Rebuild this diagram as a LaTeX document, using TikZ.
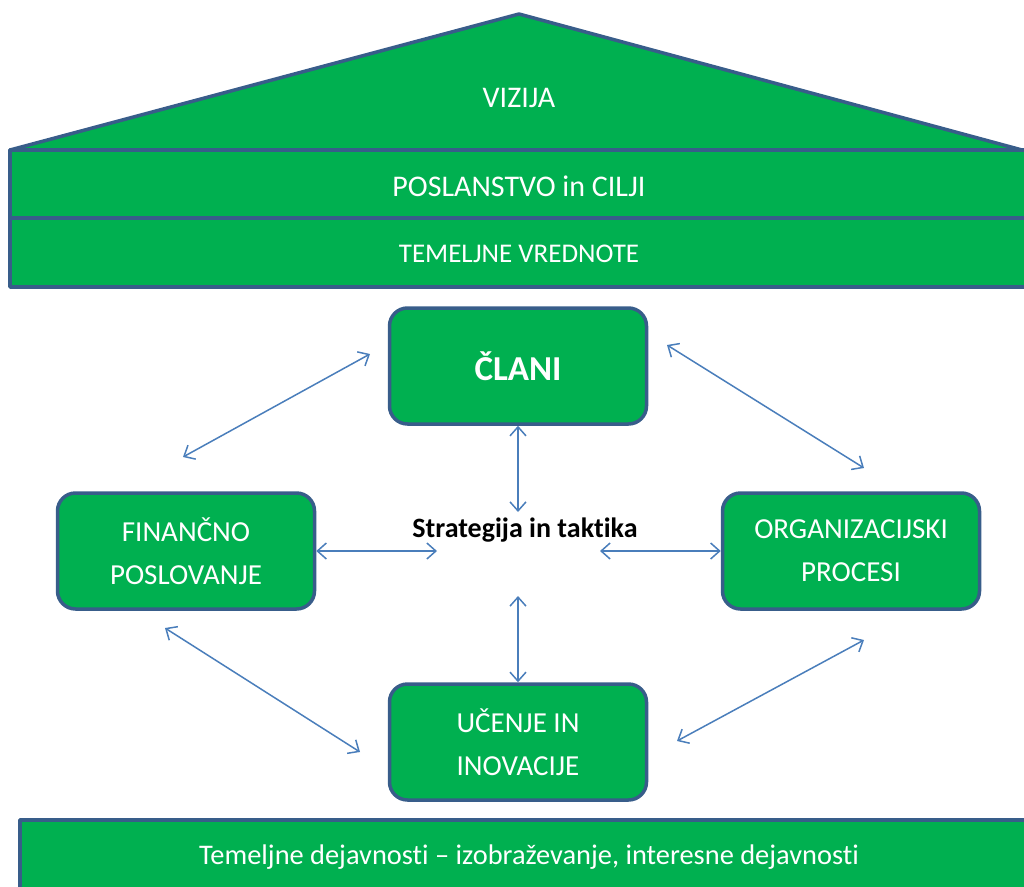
\documentclass[tikz,border=0pt]{standalone}
\usepackage{fontspec}
\setmainfont{Carlito}[Ligatures=NoCommon]
\usetikzlibrary{arrows.meta}
\definecolor{hgreen}{RGB}{0,176,80}
\definecolor{hblue}{RGB}{56,93,138}
\definecolor{arrblue}{RGB}{74,126,187}
\begin{document}
\begin{tikzpicture}[x=1pt,y=-1pt,line join=round,
  part/.style={fill=hgreen,draw=hblue,line width=3.5pt},
  box/.style={part,rounded corners=18pt,minimum width=257pt,minimum height=116pt,align=center,text=white,font=\fontsize{29}{43}\selectfont},
  link/.style={draw=arrblue,line width=1.5pt,{Straight Barb[length=9pt,width=16pt]}-{Straight Barb[length=9pt,width=16pt]}}]
\useasboundingbox (0,0) rectangle (1024,886);
% roof, beams and floor
\draw[part] (10,150) -- (519,14) -- (1022,150) -- cycle;
\draw[part] (10,150) rectangle (1034,218);
\draw[part] (10,218) rectangle (1034,287);
\draw[part] (20,820) rectangle (1034,900);
\node[text=white,font=\fontsize{30}{36}\selectfont] (vizija) at (519,98) {VIZIJA};
\node[text=white,font=\fontsize{30}{36}\selectfont] (poslanstvo) at (519,186) {POSLANSTVO in CILJI};
\node[text=white,font=\fontsize{27}{32}\selectfont] (vrednote) at (519,254) {TEMELJNE VREDNOTE};
\node[text=white,font=\fontsize{28.4}{36}\selectfont] (dejavnosti) at (529,857) {Temeljne dejavnosti – izobraževanje, interesne dejavnosti};
% the four boxes
\node[box,font=\fontsize{35}{40}\selectfont\bfseries] (clani) at (518,366) {ČLANI};
\node[box] (financno) at (186,551) {FINANČNO\\POSLOVANJE};
\node[box] (procesi) at (851,551) {ORGANIZACIJSKI\\PROCESI};
\node[box] (ucenje) at (518,742) {UČENJE IN\\INOVACIJE};
\node[font=\fontsize{28}{34}\selectfont\bfseries] (strategija) at (525,530) {Strategija in taktika};
% free ends
\coordinate (sN) at (518,512);
\coordinate (sS) at (518,596);
\coordinate (sW) at (437,551);
\coordinate (sE) at (600,551);
\coordinate (a1) at (183,457); \coordinate (a2) at (370,354);
\coordinate (b1) at (667,345); \coordinate (b2) at (864,468);
\coordinate (c1) at (165,628); \coordinate (c2) at (360,752);
\coordinate (d1) at (677,741); \coordinate (d2) at (864,640);
\draw[link] (clani) -- (sN);
\draw[link] (sS) -- (ucenje);
\draw[link] (financno) -- (sW);
\draw[link] (sE) -- (procesi);
\foreach \p/\q in {a1/a2,b1/b2,c1/c2,d1/d2}
{
\draw[link] (\p) -- (\q);
}
\end{tikzpicture}
\end{document}
